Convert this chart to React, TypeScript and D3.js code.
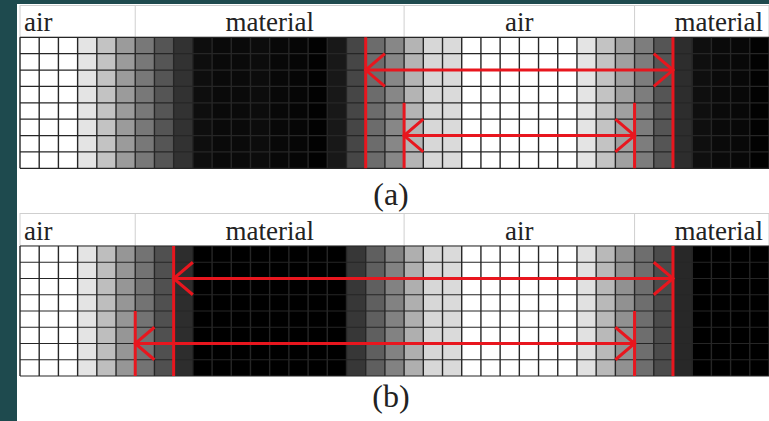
import React from "react";
import * as d3 from "d3";

// Gray level (0-255) of each of the 39 columns
const grayA = [255,255,255,228,195,155,120,85,50,14,10,10,12,8,6,2,24,70,108,135,180,215,218,255,255,255,255,255,255,228,195,160,125,85,45,15,10,8,2];
const grayB = [255,255,255,228,190,150,115,80,45,0,0,0,0,0,0,0,0,55,95,130,175,215,218,255,255,255,255,255,255,225,185,145,110,75,40,0,0,0,0];

const headerLabels = ["air", "material", "air", "material"];
const headerSpans = [6, 14, 12, 7];
const headerAlign = ["start", "middle", "middle", "end"];

// arrows: left boundary column, right boundary column, row line, start row of vertical bars
const arrowsA = [
  { from: 18, to: 34, row: 2, vStart: 0 },
  { from: 20, to: 32, row: 6, vStart: 4 },
];
const arrowsB = [
  { from: 8, to: 34, row: 2, vStart: 0 },
  { from: 6, to: 32, row: 6, vStart: 4 },
];

const captions = ["(a)", "(b)"];

const NCOLS = 39;
const NROWS = 8;
const RED = "#e8161e";

function Panel({ grays, arrows, headerTop, gridTop, gridBottom, caption, captionY }) {
  const x = d3.scaleLinear().domain([0, NCOLS]).range([20, 769]);
  const y = d3.scaleLinear().domain([0, NROWS]).range([gridTop, gridBottom]);
  const cols = d3.range(NCOLS);
  let acc = 0;
  const segs = headerSpans.map((s, i) => {
    const seg = { start: acc, end: acc + s, label: headerLabels[i], align: headerAlign[i] };
    acc += s;
    return seg;
  });
  const baseline = gridTop - 6;
  return (
    <g>
      {/* header */}
      <rect x={x(0)} y={headerTop} width={x(NCOLS) - x(0)} height={gridTop - headerTop} fill="#fff" stroke="#cfcfcf" strokeWidth={1} />
      {segs.map((s, i) => (
        <g key={i}>
          {i > 0 && <line x1={x(s.start)} x2={x(s.start)} y1={headerTop} y2={gridTop} stroke="#cfcfcf" strokeWidth={1} />}
          <text
            x={s.align === "start" ? x(s.start) + 4 : s.align === "end" ? x(s.end) - 6 : (x(s.start) + x(s.end)) / 2}
            y={baseline}
            textAnchor={s.align}
            fontFamily="'Liberation Serif', serif"
            fontSize={27}
            fill="#222"
          >
            {s.label}
          </text>
        </g>
      ))}
      {/* cells */}
      {cols.map((c) => (
        <rect key={c} x={x(c)} y={y(0)} width={x(c + 1) - x(c) + 0.3} height={y(NROWS) - y(0)} fill={d3.rgb(grays[c], grays[c], grays[c]).toString()} />
      ))}
      {/* grid lines */}
      {d3.range(NCOLS + 1).map((c) => (
        <line key={"v" + c} x1={x(c)} x2={x(c)} y1={y(0)} y2={y(NROWS)} stroke="#262626" strokeWidth={1.4} />
      ))}
      {d3.range(NROWS + 1).map((r) => (
        <line key={"h" + r} x1={x(0)} x2={x(NCOLS)} y1={y(r)} y2={y(r)} stroke="#262626" strokeWidth={1.2} />
      ))}
      {/* arrows */}
      {arrows.map((a, i) => {
        const xl = x(a.from), xr = x(a.to), yy = y(a.row);
        const hx = x(1) - x(0), hy = y(1) - y(0);
        return (
          <g key={i} stroke={RED} strokeWidth={3} fill="none">
            <line x1={xl} x2={xl} y1={y(a.vStart)} y2={y(NROWS)} />
            <line x1={xr} x2={xr} y1={y(a.vStart)} y2={y(NROWS)} />
            <line x1={xl} x2={xr} y1={yy} y2={yy} />
            <polyline points={`${xl + hx},${yy - hy} ${xl},${yy} ${xl + hx},${yy + hy}`} />
            <polyline points={`${xr - hx},${yy - hy} ${xr},${yy} ${xr - hx},${yy + hy}`} />
          </g>
        );
      })}
      <text x={391} y={captionY} textAnchor="middle" fontFamily="'Liberation Serif', serif" fontSize={32} fill="#222">
        {caption}
      </text>
    </g>
  );
}

export default function App() {
  return (
    <svg width={769} height={421} style={{ position: "absolute", left: 0, top: 0 }}>
      <rect x={0} y={0} width={769} height={421} fill="#1e4a4e" />
      <rect x={17} y={4} width={752} height={417} fill="#fff" />
      <Panel grays={grayA} arrows={arrowsA} headerTop={5.5} gridTop={37.3} gridBottom={168.3} caption={captions[0]} captionY={205} />
      <Panel grays={grayB} arrows={arrowsB} headerTop={213.5} gridTop={246} gridBottom={376} caption={captions[1]} captionY={407} />
    </svg>
  );
}
